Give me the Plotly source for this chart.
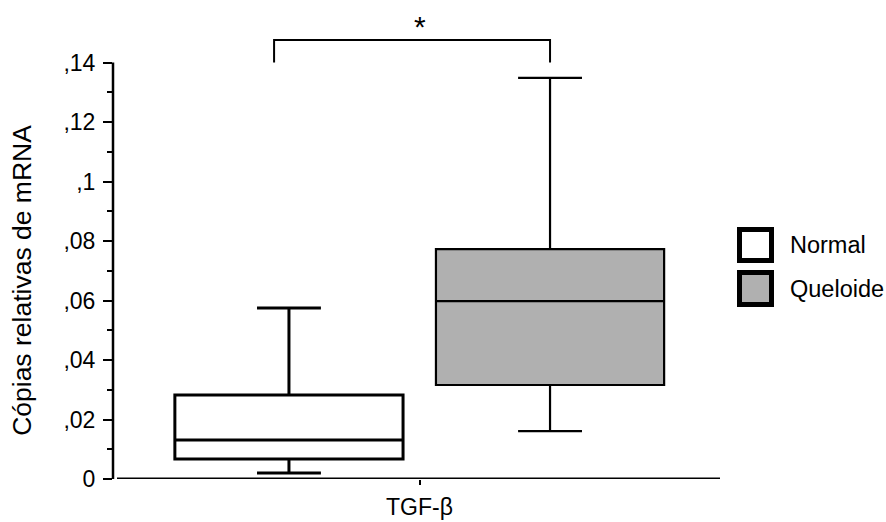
import plotly.graph_objects as go

# Five-number summaries of relative TGF-beta mRNA copies per group
groups = ["Normal", "Queloide"]
positions = [0, 1]
lower_whisker = [0.0020, 0.0161]
q1_values = [0.0067, 0.0316]
medians = [0.0131, 0.0598]
q3_values = [0.0282, 0.0773]
upper_whisker = [0.0575, 0.1348]

fill_colors = ["#FFFFFF", "#B0B0B0"]
line_widths = [3, 2.2]

y_tick_vals = [0, 0.02, 0.04, 0.06, 0.08, 0.10, 0.12, 0.14]
y_tick_text = ["0", ",02", ",04", ",06", ",08", ",1", ",12", ",14"]
y_minor_vals = [0.01, 0.03, 0.05, 0.07, 0.09, 0.11, 0.13]
x_tick_vals = [0.5]
x_tick_text = ["TGF-β"]

FONT = "Liberation Sans, Arial, sans-serif"
W, H = 886, 522
ML, MR, MT, MB = 113, 166, 3, 43
PW, PH = W - ML - MR, H - MT - MB


def paper_x(px):
    return (px - ML) / PW


def paper_y(py):
    return (H - MB - py) / PH


fig = go.Figure()
for i, name in enumerate(groups):
    fig.add_trace(go.Box(
        name=name,
        x=[positions[i]],
        lowerfence=[lower_whisker[i]],
        q1=[q1_values[i]],
        median=[medians[i]],
        q3=[q3_values[i]],
        upperfence=[upper_whisker[i]],
        width=0.874,
        whiskerwidth=0.28,
        fillcolor=fill_colors[i],
        line=dict(color="#000000", width=line_widths[i]),
        boxpoints=False,
        showlegend=False,
    ))

shapes = []
# axis lines
shapes.append(dict(type="line", xref="paper", yref="y", x0=paper_x(117), x1=paper_x(720),
                   y0=0, y1=0, line=dict(color="black", width=3)))
shapes.append(dict(type="line", xref="paper", yref="y", x0=0, x1=0,
                   y0=0, y1=0.14, line=dict(color="black", width=2.5)))
# significance bracket between the two groups
shapes.append(dict(type="path", xref="x", yref="y",
                   path="M -0.057,0.140 L -0.057,0.1476 L 1.0,0.1476 L 1.0,0.140",
                   line=dict(color="black", width=2)))

# legend swatches
legend_rows = [(227, 263), (270, 307)]
for (top, bottom), color in zip(legend_rows, fill_colors):
    shapes.append(dict(type="rect", xref="paper", yref="paper",
                       x0=paper_x(739.5), x1=paper_x(771.5),
                       y0=paper_y(bottom - 2.5), y1=paper_y(top + 2.5),
                       fillcolor=color, line=dict(color="black", width=5)))

annotations = []
for (top, bottom), name in zip(legend_rows, groups):
    annotations.append(dict(text=name, xref="paper", yref="paper",
                            x=paper_x(788), y=paper_y((top + bottom) / 2),
                            xanchor="left", yanchor="middle", showarrow=False,
                            font=dict(family=FONT, size=23.5, color="black")))
annotations.append(dict(text="*", xref="x", yref="y", x=0.5, y=0.1520,
                        xanchor="center", yanchor="middle", showarrow=False,
                        font=dict(family=FONT, size=30, color="black")))
annotations.append(dict(text="Cópias relativas de mRNA", xref="paper", yref="y",
                        x=0, xshift=-91, y=0.0666, textangle=-90,
                        xanchor="center", yanchor="middle", showarrow=False,
                        font=dict(family=FONT, size=26.5, color="black")))

fig.update_layout(
    width=W, height=H,
    margin=dict(l=ML, r=MR, t=MT, b=MB, autoexpand=False),
    paper_bgcolor="white", plot_bgcolor="white",
    boxmode="overlay",
    showlegend=False,
    shapes=shapes,
    annotations=annotations,
    xaxis=dict(range=[-0.674, 1.651], showgrid=False, zeroline=False, showline=False,
               automargin=False,
               tickmode="array", tickvals=x_tick_vals, ticktext=x_tick_text,
               ticks="outside", ticklen=5, tickwidth=1.5, tickcolor="black",
               ticklabelstandoff=2,
               tickfont=dict(family=FONT, size=23, color="black")),
    yaxis=dict(range=[0, 0.16], showgrid=False, zeroline=False, showline=False,
               automargin=False,
               tickmode="array", tickvals=y_tick_vals, ticktext=y_tick_text,
               ticks="outside", ticklen=9, tickwidth=2, tickcolor="black",
               ticklabelstandoff=3,
               minor=dict(tickmode="array", tickvals=y_minor_vals, ticks="outside",
                          ticklen=5, tickwidth=2, tickcolor="black"),
               tickfont=dict(family=FONT, size=23, color="black")),
)

fig.write_html("out.html")
